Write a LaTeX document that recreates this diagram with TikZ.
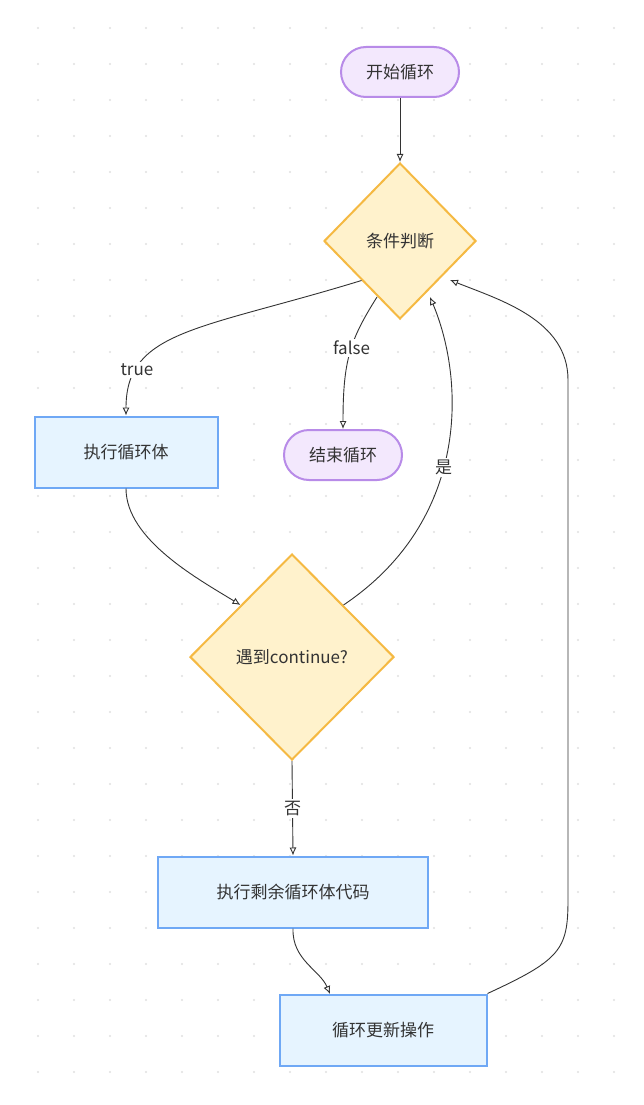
\documentclass[tikz,border=0pt]{standalone}
\usepackage{fontspec}
\setmainfont{Noto Sans CJK SC}
\usetikzlibrary{shapes.geometric,arrows.meta}
\definecolor{pf}{HTML}{F3E8FD}\definecolor{pd}{HTML}{B88BE8}
\definecolor{yf}{HTML}{FFF2CC}\definecolor{yd}{HTML}{F5B942}
\definecolor{bf}{HTML}{E6F4FF}\definecolor{bd}{HTML}{6FA8F5}
\begin{document}
\begin{tikzpicture}[x=1pt,y=-1pt,font=\fontsize{17}{20}\selectfont,text=black!80,
 term/.style={draw=pd,fill=pf,line width=2pt,rounded corners=25pt,minimum width=118pt,minimum height=50pt,inner sep=0pt},
 dec/.style={draw=yd,fill=yf,line width=2pt,diamond,inner sep=0pt},
 proc/.style={draw=bd,fill=bf,line width=2pt,minimum height=71pt,inner sep=0pt},
 edge/.style={draw=black!80,line width=0.9pt,-{Latex[open,length=8pt,width=7pt]}},
 lab/.style={fill=white,inner sep=2pt}]
\useasboundingbox[fill=white] (0,0) rectangle (643,1105);
\foreach \i in {0,...,17}{\foreach \j in {0,...,30}{\fill[black!12] (38+\i*36,28+\j*36) circle (1.2pt);}}
\node[term] (s) at (400,72) {开始循环};
\node[dec,minimum width=152pt,minimum height=156pt] (c) at (400,241) {条件判断};
\node[proc,minimum width=183pt] (b) at (126,452) {执行循环体};
\node[term] (e) at (343,455) {结束循环};
\node[dec,minimum width=204pt,minimum height=206pt] (k) at (292,657) {遇到continue?};
\node[proc,minimum width=270pt] (r) at (293,892) {执行剩余循环体代码};
\node[proc,minimum width=207pt] (u) at (383,1030) {循环更新操作};
\coordinate (cf) at (377,297);
\coordinate (ct) at (430,297);
\coordinate (ur) at (450,280);
\coordinate (ut) at (330,994);
\draw[edge] (s) -- (c);
\draw[edge] (c.south west) .. controls (200,330) and (126,330) .. node[lab,pos=0.78]{true} (b.north);
\draw[edge] (cf) .. controls (350,340) and (343,360) .. node[lab,pos=0.45]{false} (e.north);
\draw[edge] (b.south) .. controls (126,540) and (200,580) .. (k.north west);
\draw[edge] (k.north east) .. controls (470,520) and (465,380) .. node[lab,pos=0.45]{是} (ct);
\draw[edge] (k.south) -- node[lab]{否} (r.north);
\draw[edge] (r.south) .. controls (292,960) and (320,970) .. (ut);
\draw[edge] (u.north east) .. controls (560,960) and (568,950) .. (568,900) -- (568,380) .. controls (568,320) and (500,300) .. (ur);
\end{tikzpicture}
\end{document}
